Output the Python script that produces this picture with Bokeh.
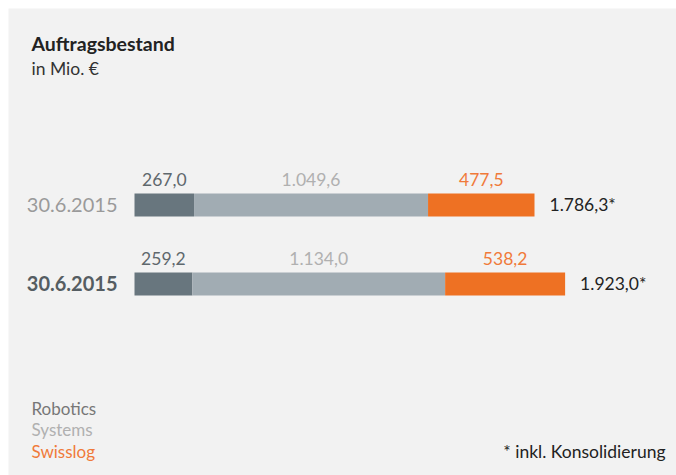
from bokeh.plotting import figure
from bokeh.models import ColumnDataSource, Range1d, Label
from bokeh.core.properties import value, field
from bokeh.embed import file_html
from bokeh.resources import INLINE
import numpy as np

# ---- data ----
dates = ["30.6.2015", "30.6.2015"]
robotics = [267.0, 259.2]
systems = [1049.6, 1134.0]
swisslog = [477.5, 538.2]
totals = [1786.3, 1923.0]
robotics_lbl = ["267,0", "259,2"]
systems_lbl = ["1.049,6", "1.134,0"]
swisslog_lbl = ["477,5", "538,2"]
totals_lbl = ["1.786,3*", "1.923,0*"]
series_names = ["Robotics", "Systems", "Swisslog"]

FONT = "Lato"
C_ROB = "#68767e"
C_SYS = "#a1acb3"
C_SWI = "#ee7123"
BG = "#f2f2f2"

rows = [0, 1]
r = np.array(robotics)
s = np.array(systems)
w = np.array(swisslog)
src = ColumnDataSource(dict(
    row=rows, date=dates,
    robotics=robotics, systems=systems, swisslog=swisslog,
    rob_mid=r / 2, sys_mid=r + s / 2, swi_mid=r + s + w / 2, end=r + s + w,
    rob_lbl=robotics_lbl, sys_lbl=systems_lbl, swi_lbl=swisslog_lbl, tot_lbl=totals_lbl,
    date_color=["#9a9a9a", "#555d62"], date_style=["normal", "bold"],
))

W, H = 676, 475
p = figure(width=W, height=H, output_backend="svg", toolbar_location=None,
           x_range=Range1d(-565.2, 2431.0), y_range=Range1d(3.424, -2.487),
           min_border=0, min_border_left=8, min_border_top=8,
           background_fill_color=BG, border_fill_color="white",
           outline_line_color=None)
p.axis.visible = False
p.grid.visible = False

p.hbar_stack(["robotics", "systems", "swisslog"], y="row", height=0.291,
             color=[C_ROB, C_SYS, C_SWI], line_color=None, source=src)

common = dict(text_font=value(FONT), text_font_size="17.5px", text_baseline="middle",
              source=src)
p.text(x="rob_mid", y="row", text="rob_lbl", text_align="center", y_offset=-25,
       text_color="#5f686d", **common)
p.text(x="sys_mid", y="row", text="sys_lbl", text_align="center", y_offset=-25,
       text_color="#b0b0b0", **common)
p.text(x="swi_mid", y="row", text="swi_lbl", text_align="center", y_offset=-25,
       text_color="#f07a3a", **common)
p.text(x="end", y="row", text="tot_lbl", text_align="left", x_offset=15,
       text_color="#222222", **common)
p.text(x=0, y="row", text="date", text_align="right", x_offset=-17,
       text_color=field("date_color"), text_font_style=field("date_style"),
       text_font=value(FONT), text_font_size="20px", text_baseline="middle",
       source=src)

def lab(txt, x, y, size, color, style="normal", align="left"):
    p.add_layout(Label(x=x, y=y, x_units="screen", y_units="screen", text=txt,
                       text_font=FONT, text_font_size=size, text_color=color,
                       text_font_style=style, text_align=align,
                       text_baseline="middle"))

FH = 467  # frame height
lab("Auftragsbestand", 23, FH - 35, "19.5px", "#222222", "bold")
lab("in Mio. €", 23, FH - 60, "17.5px", "#333333")
lab(series_names[0], 23, FH - 400, "17px", "#777777")
lab(series_names[1], 23, FH - 421, "17px", "#b0b0b0")
lab(series_names[2], 23, FH - 443, "17px", "#f07a3a")
lab("* inkl. Konsolidierung", 657, FH - 443, "17.5px", "#222222", align="right")

open("out.html", "w").write(file_html(p, INLINE))
